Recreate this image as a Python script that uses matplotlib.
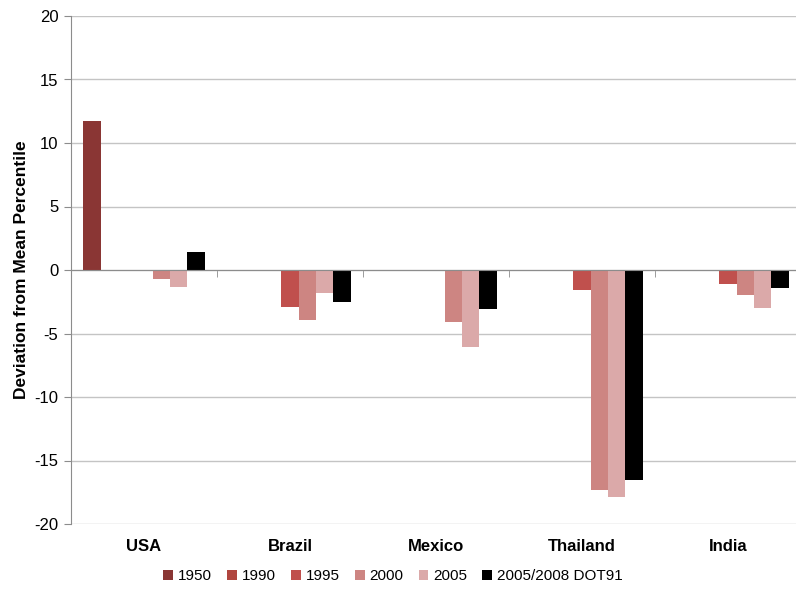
import numpy as np
import matplotlib
matplotlib.use("Agg")
import matplotlib.pyplot as plt

plt.rcParams["font.family"] = ["Liberation Sans", "DejaVu Sans"]
plt.rcParams["axes.unicode_minus"] = False

countries = ["USA", "Brazil", "Mexico", "Thailand", "India"]
series_names = ["1950", "", "1990", "1995", "2000", "2005", "2005/2008 DOT91"]
v1950 = [11.7, 0, 0, 0, 0]
v_blank = [0, 0, 0, 0, 0]
v1990 = [0, 0, 0, 0, 0]
v1995 = [-0.1, -2.9, 0, -1.6, -1.1]
v2000 = [-0.7, -3.9, -4.1, -17.3, -2.0]
v2005 = [-1.3, -1.8, -6.1, -17.9, -3.0]
v_dot91 = [1.4, -2.55, -3.05, -16.5, -1.45]
values = [v1950, v_blank, v1990, v1995, v2000, v2005, v_dot91]
colors = ["#8A3634", "#A03F3D", "#B0463F", "#C0504D", "#CD8582", "#DBA9A9", "#000000"]

fig = plt.figure(figsize=(7.96, 5.89), dpi=100)
ax = fig.add_axes([71 / 796, 1 - 524 / 589, 730 / 796, 508 / 589])

x = np.arange(len(countries))
bw = 0.1185
n = len(series_names)
for i, (name, vals, c) in enumerate(zip(series_names, values, colors)):
    offs = (i - (n - 1) / 2) * bw
    ax.bar(x + offs, vals, width=bw, color=c, label=name if name else "_nolegend_",
           zorder=3)

ax.set_xlim(-0.5, 4.5)
ax.set_ylim(-20, 20)
ax.set_yticks(np.arange(-20, 21, 5))
ax.yaxis.grid(True, color="#C4C4C4", linewidth=1)
ax.set_axisbelow(True)

for s in ["top", "right"]:
    ax.spines[s].set_visible(False)
ax.spines["left"].set_color("#8C8C8C")
ax.spines["bottom"].set_position(("data", 0))
ax.spines["bottom"].set_color("#8C8C8C")
ax.spines["bottom"].set_zorder(4)

ax.tick_params(axis="y", length=5, color="#8C8C8C", labelsize=12, pad=4)
ax.set_xticks(x)
ax.set_xticklabels(countries, fontweight="bold", fontsize=12)
ax.set_xticks(np.arange(0.5, 5, 1), minor=True)
ax.tick_params(axis="x", which="major", length=0, pad=194)
ax.tick_params(axis="x", which="minor", length=5, color="#8C8C8C", direction="out")

ax.set_ylabel("Deviation from Mean Percentile", fontweight="bold", fontsize=12.5, labelpad=4)

leg = fig.legend(loc="center", bbox_to_anchor=(393 / 796, 1 - 576 / 589), ncol=6,
                 frameon=False, fontsize=11, handlelength=0.65, handleheight=0.65,
                 handletextpad=0.3, columnspacing=1.0)

fig.savefig("out.png", dpi=100)
